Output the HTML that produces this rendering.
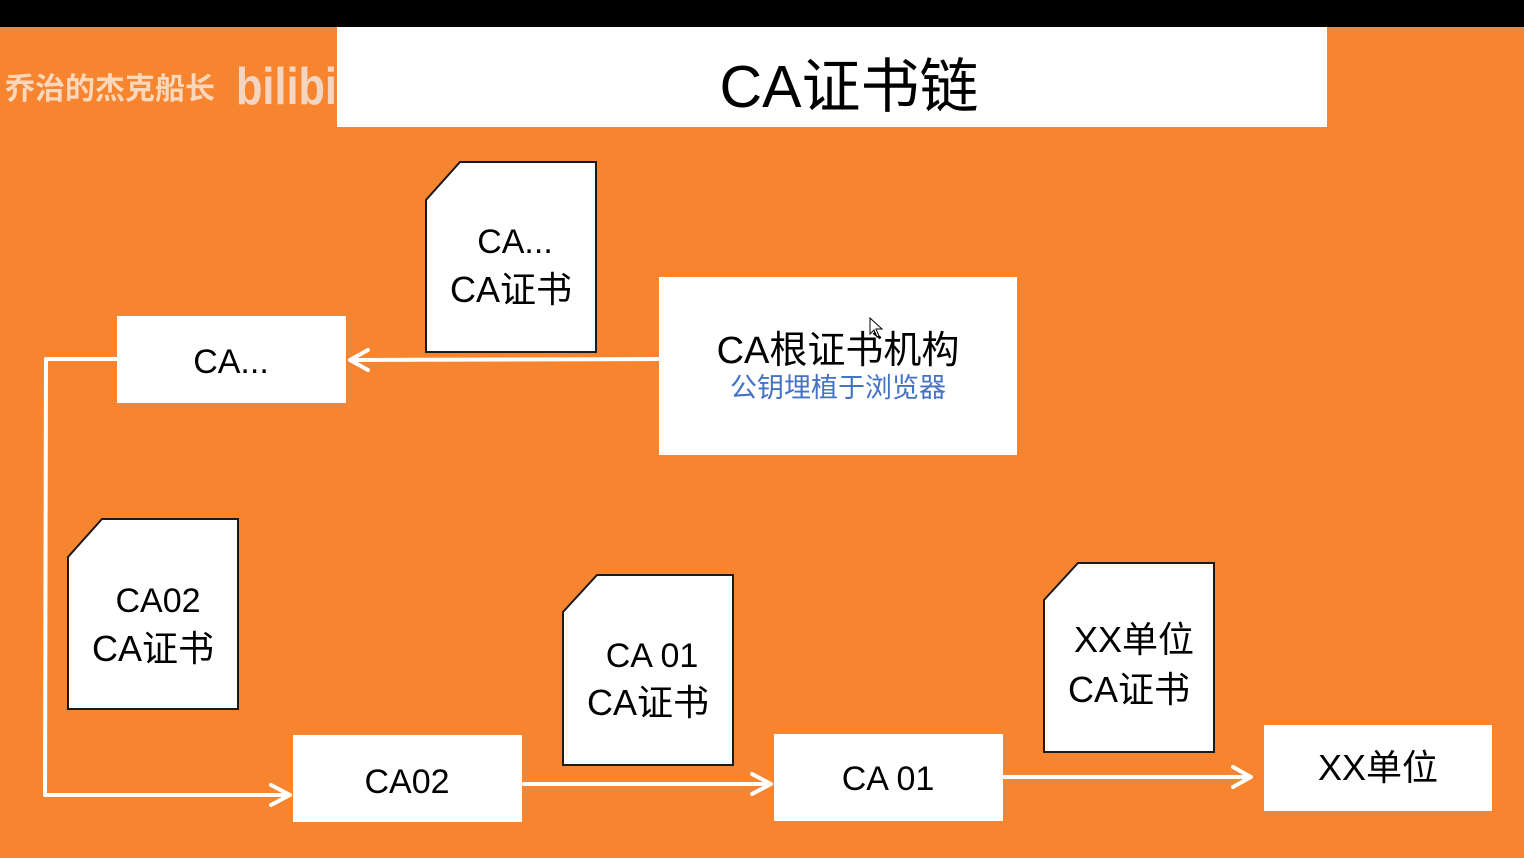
<!DOCTYPE html>
<html>
<head>
<meta charset="utf-8">
<style>
  html,body{margin:0;padding:0;background:#000;}
  body{width:1524px;height:858px;overflow:hidden;}
  svg{display:block;}
  text{font-family:"Liberation Sans","Noto Sans CJK SC",sans-serif;}
</style>
</head>
<body>
<svg width="1524" height="858" viewBox="0 0 1524 858" xmlns="http://www.w3.org/2000/svg">
  <!-- background -->
  <rect x="0" y="0" width="1524" height="858" fill="#F7852F"/>
  <rect x="0" y="0" width="1524" height="27" fill="#000"/>

  <!-- watermark -->
  <text x="5" y="99" font-size="30" font-weight="bold" fill="#FBDCC4" fill-opacity="0.95">乔治的杰克船长</text>
  <text x="236" y="104" font-size="52" font-weight="bold" fill="#F3D5C2" textLength="125" lengthAdjust="spacingAndGlyphs">bilibili</text>

  <!-- title box -->
  <rect x="337" y="27" width="990" height="100" fill="#FFFFFF"/>
  <text x="849" y="107" font-size="59" text-anchor="middle" fill="#000">CA证书链</text>

  <!-- connectors -->
  <g stroke="#FFFFFF" stroke-width="4" fill="none" stroke-linecap="round" stroke-linejoin="round">
    <!-- root -> CA... -->
    <line x1="659" y1="359" x2="351" y2="360"/>
    <polyline points="368,350 350,360 368,370"/>
    <!-- CA... -> CA02 -->
    <polyline points="117,359 46,359 45,795 289,795"/>
    <polyline points="271,785 290,795 271,805"/>
    <!-- CA02 -> CA01 -->
    <line x1="524" y1="784" x2="769" y2="784"/>
    <polyline points="752,774 771,784 752,794"/>
    <!-- CA01 -> XX -->
    <line x1="1004" y1="777" x2="1250" y2="777"/>
    <polyline points="1233,767 1251,777 1233,787"/>
  </g>

  <!-- CA root box -->
  <rect x="659" y="277" width="358" height="178" fill="#FFFFFF"/>
  <text x="838" y="363" font-size="38" text-anchor="middle" fill="#000">CA根证书机构</text>
  <text x="838" y="397" font-size="27" text-anchor="middle" fill="#4472C4">公钥埋植于浏览器</text>

  <!-- cursor -->
  <polygon points="870,318 870,334 874,330 877,337 879,336 876,329 882,329" fill="#FFFFFF" stroke="#000" stroke-width="1"/>

  <!-- CA... box -->
  <rect x="117" y="316" width="229" height="87" fill="#FFFFFF"/>
  <text x="231" y="373" font-size="34" text-anchor="middle" fill="#000">CA...</text>

  <!-- CA02 box -->
  <rect x="293" y="735" width="229" height="87" fill="#FFFFFF"/>
  <text x="407" y="793" font-size="34" text-anchor="middle" fill="#000">CA02</text>

  <!-- CA 01 box -->
  <rect x="774" y="734" width="229" height="87" fill="#FFFFFF"/>
  <text x="888" y="790" font-size="34" text-anchor="middle" fill="#000">CA 01</text>

  <!-- XX box -->
  <rect x="1264" y="725" width="228" height="86" fill="#FFFFFF"/>
  <text x="1378" y="780" font-size="36" text-anchor="middle" fill="#000">XX单位</text>

  <!-- documents (notched corner) -->
  <g fill="#FFFFFF" stroke="#1a1a1a" stroke-width="2">
    <polygon points="460,162 596,162 596,352 426,352 426,200"/>
    <polygon points="102,519 238,519 238,709 68,709 68,557"/>
    <polygon points="597,575 733,575 733,765 563,765 563,612"/>
    <polygon points="1078,563 1214,563 1214,752 1044,752 1044,600"/>
  </g>

  <!-- doc texts -->
  <text x="515" y="253" font-size="34" text-anchor="middle" fill="#000">CA...</text>
  <text x="511" y="302" font-size="36" text-anchor="middle" fill="#000">CA证书</text>

  <text x="158" y="612" font-size="34" text-anchor="middle" fill="#000">CA02</text>
  <text x="153" y="661" font-size="36" text-anchor="middle" fill="#000">CA证书</text>

  <text x="652" y="667" font-size="34" text-anchor="middle" fill="#000">CA 01</text>
  <text x="648" y="715" font-size="36" text-anchor="middle" fill="#000">CA证书</text>

  <text x="1134" y="652" font-size="36" text-anchor="middle" fill="#000">XX单位</text>
  <text x="1129" y="702" font-size="36" text-anchor="middle" fill="#000">CA证书</text>
</svg>
</body>
</html>
